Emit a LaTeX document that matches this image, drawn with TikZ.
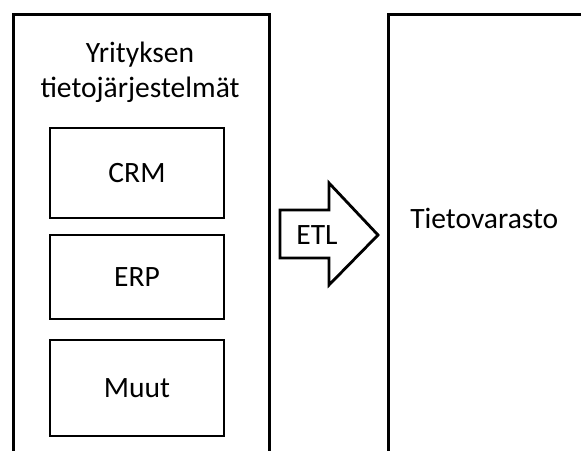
\documentclass[tikz,border=0pt]{standalone}
\usepackage{fontspec}
\setmainfont{Carlito}
\usetikzlibrary{positioning}
\tikzset{
    box/.style = {
        draw,
        shape=rectangle,
        line width=2pt
    },
    system/.style = {
        box,
        minimum width=4.35cm,
        minimum height=2.2cm,
        font=\fontsize{21}{25}\selectfont
    },
    caption/.style = {
        inner sep=0pt,
        font=\fontsize{21}{25}\selectfont
    },
}
\begin{document}
\begin{tikzpicture}

            \useasboundingbox (0,0) rectangle (14.525,-11.25);
            \clip (0,0) rectangle (14.525,-11.25);

            \node[box, minimum width=6.4cm, minimum height=12cm, anchor=north west] (sources) at (0.3,-0.33) {};
            \node[box, minimum width=6cm, minimum height=12cm, anchor=north west] (warehouse) at (9.675,-0.33) {};

            \node[caption, align=center] (title) at (3.5,-1.8) {Yrityksen\\tietojärjestelmät};

            \node[system, minimum height=2.25cm] (crm) at (3.425,-4.325) {CRM};
            \node[system, minimum height=2.1cm] (erp) at (3.425,-6.925) {ERP};
            \node[system, minimum height=2.4cm] (other) at (3.425,-9.7) {Muut};

            \draw[box] (7.0,-5.25) -- (8.225,-5.25) -- (8.225,-4.575) -- (9.45,-5.875)
                -- (8.225,-7.125) -- (8.225,-6.45) -- (7.0,-6.45) -- cycle;
            \node[caption] (etl) at (7.925,-5.875) {ETL};

            \node[caption, anchor=west] (dwh) at (10.25,-5.45) {Tietovarasto};

\end{tikzpicture}
\end{document}
